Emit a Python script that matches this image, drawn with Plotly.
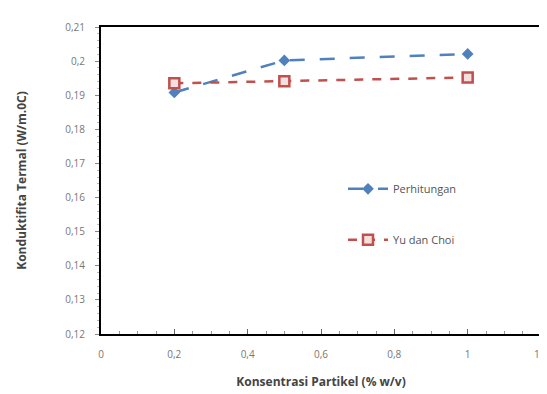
import plotly.graph_objects as go

x_vals = [0.2, 0.5, 1.0]
perhitungan = [0.1908, 0.2002, 0.2021]
yu_dan_choi = [0.1935, 0.1941, 0.1952]

x_ticks = [0, 0.2, 0.4, 0.6, 0.8, 1.0, 1.2]
x_tick_labels = ["0", "0,2", "0,4", "0,6", "0,8", "1", "1,2"]
y_ticks = [0.12, 0.13, 0.14, 0.15, 0.16, 0.17, 0.18, 0.19, 0.2, 0.21]
y_tick_labels = ["0,12", "0,13", "0,14", "0,15", "0,16", "0,17", "0,18", "0,19", "0,2", "0,21"]

fig = go.Figure()
fig.add_trace(go.Scatter(
    x=x_vals, y=perhitungan, name="Perhitungan", mode="lines+markers",
    legendgroup="a",
    line=dict(color="#4F81BD", width=2.5, dash="longdash"),
    marker=dict(symbol="diamond", size=9, color="#4F81BD"),
))
fig.add_trace(go.Scatter(
    x=x_vals, y=yu_dan_choi, name="Yu dan Choi", mode="lines+markers",
    legendgroup="b",
    line=dict(color="#C0504D", width=2.5, dash="dash"),
    marker=dict(symbol="square", size=10, color="#f6e0df", line=dict(color="#C0504D", width=2.5)),
))

font_tick = dict(family="Open Sans, DejaVu Sans, sans-serif", size=10, color="#777777")
title_font = dict(family="Open Sans, DejaVu Sans, sans-serif", size=12, color="#444444", weight="bold")
fig.update_layout(
    width=547, height=394,
    margin=dict(l=93, r=14, t=19, b=68),
    paper_bgcolor="white", plot_bgcolor="white",
    showlegend=True,
    legend=dict(x=0.55, y=0.52, xanchor="left", yanchor="top",
                bgcolor="rgba(0,0,0,0)", traceorder="grouped", tracegroupgap=32,
                font=dict(family="Open Sans, DejaVu Sans, sans-serif", size=11, color="#555555"),
                itemwidth=40),
    xaxis=dict(range=[0, 1.2], tickvals=x_ticks, ticktext=x_tick_labels,
               tickfont=font_tick, showgrid=False, zeroline=False,
               showline=True, linecolor="black", linewidth=2, mirror=True,
               ticks="inside", ticklen=5, tickcolor="#666666", ticklabelstandoff=10,
               automargin=False, ticklabeloverflow="allow",
               minor=dict(ticks="inside", ticklen=3, dtick=0.05, tickcolor="#999999"),
               title=dict(text="Konsentrasi Partikel (% w/v)", standoff=18, font=title_font)),
    yaxis=dict(range=[0.12, 0.21], tickvals=y_ticks, ticktext=y_tick_labels,
               tickfont=font_tick, showgrid=False, zeroline=False,
               showline=True, linecolor="black", linewidth=2, mirror=True,
               ticks="outside", ticklen=4, tickcolor="#888888", ticklabelstandoff=8,
               automargin=False,
               minor=dict(ticks="outside", ticklen=2, dtick=0.002, tickcolor="#bbbbbb"),
               title=dict(text="Konduktifita Termal (W/m.0C)", standoff=36, font=title_font)),
)

fig.write_html("out.html")
